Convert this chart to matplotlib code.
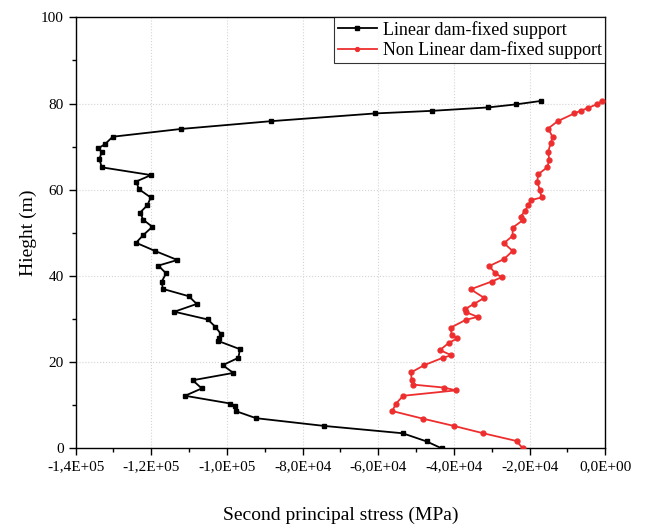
import matplotlib
matplotlib.use("Agg")
import matplotlib.pyplot as plt
from matplotlib.ticker import MultipleLocator, FuncFormatter

# Linear dam-fixed support: stress (x) vs height (y)
linear_stress = [-43250, -47210, -53550, -74270, -92310, -97680, -97860, -99100,
                 -111070, -106660, -109040, -98310, -101110, -96990, -96540,
                 -102270, -102010, -101560, -103060, -105070, -113900, -107980,
                 -110090, -116960, -117220, -116090, -118120, -113100, -119000,
                 -124020, -122090, -119710, -122090, -122960, -121030, -120130,
                 -123220, -124020, -120050, -133080, -133710, -133080, -133980,
                 -132210, -130170, -112130, -88430, -60870, -45890, -30930,
                 -23620, -17010]
linear_height = [0.0, 1.6, 3.5, 5.2, 7.0, 8.65, 9.9, 10.4,
                 12.2, 13.9, 15.8, 17.5, 19.3, 21.0, 23.0,
                 24.9, 25.7, 26.5, 28.2, 29.9, 31.7, 33.5,
                 35.3, 37.0, 38.7, 40.6, 42.4, 43.7, 45.8,
                 47.7, 49.5, 51.4, 53.0, 54.7, 56.4, 58.2,
                 60.1, 61.9, 63.4, 65.2, 67.1, 68.8, 69.6,
                 70.6, 72.3, 74.1, 75.9, 77.7, 78.3, 79.1,
                 79.8, 80.6]

# Non linear dam-fixed support
nonlinear_stress = [-21850, -23430, -32260, -40000, -48270, -56300, -55320, -53390,
                    -39470, -42640, -50920, -51180, -51360, -47850, -42990, -40700,
                    -43700, -41320, -39130, -40610, -40870, -36910, -33740, -36830,
                    -37090, -34720, -32000, -35590, -30040, -27400, -29170, -30670,
                    -26790, -24490, -26790, -24490, -24490, -21690, -22380, -21240,
                    -20370, -19660, -16830, -17300, -18000, -17720, -15350, -14820,
                    -15090, -14450, -13920, -15090, -12600, -8210, -6530, -4530,
                    -2300, -820]
nonlinear_height = [0.0, 1.7, 3.5, 5.2, 6.9, 8.65, 10.4, 12.2,
                    13.45, 14.1, 14.8, 15.8, 17.6, 19.3, 21.0, 21.6,
                    22.8, 24.5, 25.5, 26.3, 28.0, 29.8, 30.5, 31.6,
                    32.3, 33.5, 34.9, 36.9, 38.7, 39.7, 40.7, 42.3,
                    43.9, 45.8, 47.6, 49.3, 51.2, 53.0, 53.7, 55.1,
                    56.4, 57.6, 58.2, 59.9, 61.9, 63.6, 65.2, 66.9,
                    68.8, 70.8, 72.2, 74.2, 75.9, 77.7, 78.3, 79.0,
                    79.8, 80.6]

plt.rcParams["font.family"] = ["Liberation Serif", "DejaVu Serif"]

fig = plt.figure(figsize=(6.46, 5.25), dpi=100)
ax = fig.add_axes([0.117, 0.146, 0.820, 0.821])

ax.plot(linear_stress, linear_height, color="black", lw=1.3, marker="s",
        markersize=3.2, label="Linear dam-fixed support", zorder=3)
ax.plot(nonlinear_stress, nonlinear_height, color="#EE2E2E", lw=1.3, marker="o",
        markersize=3.5, label="Non Linear dam-fixed support", zorder=3)

ax.set_xlim(-140000, 0)
ax.set_ylim(0, 100)
ax.xaxis.set_major_locator(MultipleLocator(20000))
ax.xaxis.set_minor_locator(MultipleLocator(10000))
ax.yaxis.set_major_locator(MultipleLocator(20))
ax.yaxis.set_minor_locator(MultipleLocator(10))


def sci_comma(v, pos):
    return f"{v:.1E}".replace(".", ",")


ax.xaxis.set_major_formatter(FuncFormatter(sci_comma))

ax.tick_params(axis="both", which="major", direction="out", length=5, width=1,
               labelsize=11, top=False, right=False)
ax.tick_params(axis="both", which="minor", direction="out", length=3, width=1,
               top=False, right=False)

for sp in ax.spines.values():
    sp.set_linewidth(1.0)

ax.grid(True, which="major", linestyle=":", color="#d4d4d4", lw=0.8, zorder=0)
ax.set_axisbelow(True)

ax.set_xlabel("Second principal stress (MPa)", fontsize=14, labelpad=24)
ax.set_ylabel("Hieght (m)", fontsize=14, labelpad=2.5)

leg = ax.legend(loc="upper right", fontsize=13, frameon=True, fancybox=False,
                borderaxespad=0, handlelength=2.2, handletextpad=0.3,
                borderpad=0.2, labelspacing=0.15, markerscale=0.8)
leg.get_frame().set_edgecolor("black")
leg.get_frame().set_linewidth(0.8)

fig.savefig("out.png", dpi=100)
